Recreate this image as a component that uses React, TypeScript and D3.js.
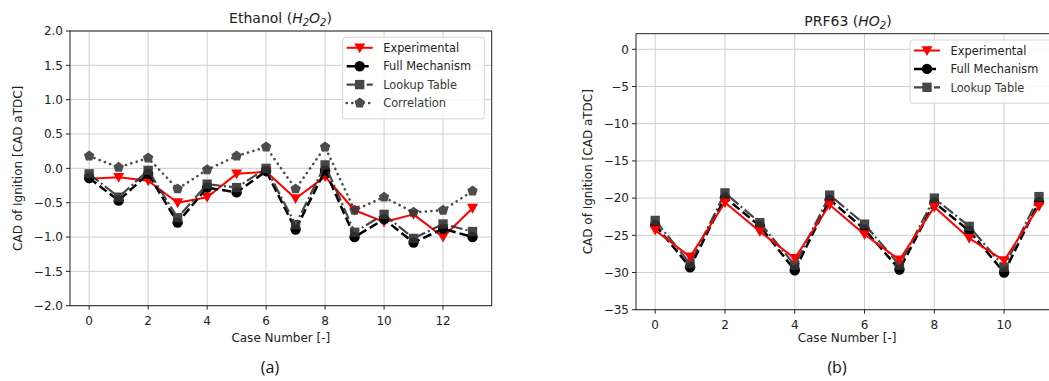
import React from "react";
import * as d3 from "d3";

// ---------- Data ----------
const casesA = [0, 1, 2, 3, 4, 5, 6, 7, 8, 9, 10, 11, 12, 13];
const expA = [-0.15, -0.13, -0.18, -0.5, -0.42, -0.08, -0.05, -0.44, -0.12, -0.61, -0.78, -0.67, -1.0, -0.58];
const fullA = [-0.14, -0.47, -0.08, -0.79, -0.28, -0.35, -0.04, -0.89, -0.03, -1.0, -0.74, -1.08, -0.88, -1.0];
const lookupA = [-0.08, -0.42, -0.03, -0.72, -0.23, -0.28, 0.0, -0.82, 0.05, -0.93, -0.67, -1.02, -0.81, -0.92];
const corrA = [0.18, 0.015, 0.15, -0.3, -0.02, 0.18, 0.31, -0.3, 0.31, -0.61, -0.42, -0.64, -0.61, -0.33];

const casesB = [0, 1, 2, 3, 4, 5, 6, 7, 8, 9, 10, 11];
const expB = [-24.3, -27.9, -20.6, -24.5, -28.1, -20.9, -24.9, -28.3, -21.2, -25.4, -28.4, -21.1];
const fullB = [-23.6, -29.3, -19.9, -23.75, -29.7, -20.2, -24.2, -29.6, -20.6, -24.4, -30.0, -20.5];
const lookupB = [-23.0, -28.8, -19.3, -23.3, -29.0, -19.6, -23.5, -29.0, -20.0, -23.8, -29.3, -19.8];

const yTicksA = [-2.0, -1.5, -1.0, -0.5, 0.0, 0.5, 1.0, 1.5, 2.0];
const xTicksA = [0, 2, 4, 6, 8, 10, 12];
const yTicksB = [-35, -30, -25, -20, -15, -10, -5, 0];
const xTicksB = [0, 2, 4, 6, 8, 10];

const seriesNames = ["Experimental", "Full Mechanism", "Lookup Table", "Correlation"];

// ---------- Styles ----------
const FONT = "'DejaVu Sans', sans-serif";
const TXT = "#222222";

type Style = {
  color: string;
  width: number;
  dash?: string;
  marker: "v" | "o" | "s" | "p";
  opacity?: number;
  cap?: "round" | "butt";
};

const styles: Record<string, Style> = {
  Experimental: { color: "#ff0000", width: 2, marker: "v" },
  "Full Mechanism": { color: "#000000", width: 2.5, dash: "9,4", marker: "o" },
  "Lookup Table": { color: "#333333", width: 2.2, dash: "12,3,2,3", marker: "s", opacity: 0.9 },
  Correlation: { color: "#3a3a3a", width: 2.6, dash: "0.1,5.5", marker: "p", opacity: 0.9, cap: "round" },
};

function markerPath(m: string, r: number): string {
  if (m === "o") {
    return `M${r},0A${r},${r} 0 1,1 ${-r},0A${r},${r} 0 1,1 ${r},0Z`;
  }
  if (m === "s") {
    const s = r * 0.9;
    return `M${-s},${-s}L${s},${-s}L${s},${s}L${-s},${s}Z`;
  }
  if (m === "v") {
    const s = r * 1.05;
    return `M${-s},${-s * 0.8}L${s},${-s * 0.8}L0,${s * 1.0}Z`;
  }
  // pentagon
  const pts: string[] = [];
  const rp = r * 1.05;
  for (let i = 0; i < 5; i++) {
    const a = -Math.PI / 2 + (i * 2 * Math.PI) / 5;
    pts.push(`${(rp * Math.cos(a)).toFixed(2)},${(rp * Math.sin(a)).toFixed(2)}`);
  }
  return "M" + pts.join("L") + "Z";
}

type PanelProps = {
  left: number;
  right: number;
  top: number;
  bottom: number;
  xDomain: [number, number];
  yDomain: [number, number];
  xTicks: number[];
  yTicks: number[];
  yFmt: (v: number) => string;
  series: { name: string; xs: number[]; ys: number[] }[];
  drawOrder: string[];
  title: React.ReactNode;
  titleX: number;
  legendX: number;
  legendY: number;
  legendW: number;
  yLabelX: number;
  clipId: string;
};

const minusFmt = (s: string) => s.replace("-", "\u2212");

function Panel(p: PanelProps) {
  const x = d3.scaleLinear().domain(p.xDomain).range([p.left, p.right]);
  const y = d3.scaleLinear().domain(p.yDomain).range([p.bottom, p.top]);
  const line = d3
    .line<[number, number]>()
    .x((d) => x(d[0]))
    .y((d) => y(d[1]));
  const midY = (p.top + p.bottom) / 2;
  const legendNames = p.series.map((s) => s.name);
  const rowH = 18.4;
  const legendH = legendNames.length * rowH + 8;

  return (
    <g>
      <defs>
        <clipPath id={p.clipId}>
          <rect x={p.left} y={p.top} width={p.right - p.left} height={p.bottom - p.top} />
        </clipPath>
      </defs>
      {/* grid */}
      {p.xTicks.map((t) => (
        <line key={"gx" + t} x1={x(t)} x2={x(t)} y1={p.top} y2={p.bottom} stroke="#cfcfcf" strokeWidth={1} />
      ))}
      {p.yTicks.map((t) => (
        <line key={"gy" + t} x1={p.left} x2={p.right} y1={y(t)} y2={y(t)} stroke="#cfcfcf" strokeWidth={1} />
      ))}
      {/* series */}
      <g clipPath={`url(#${p.clipId})`}>
        {p.drawOrder.map((name) => {
          const s = p.series.find((q) => q.name === name)!;
          const st = styles[name];
          const pts = s.xs.map((v, i) => [v, s.ys[i]] as [number, number]);
          return (
            <g key={name} opacity={st.opacity ?? 1}>
              <path
                d={line(pts) || ""}
                fill="none"
                stroke={st.color}
                strokeWidth={st.width}
                strokeDasharray={st.dash}
                strokeLinejoin="round"
                strokeLinecap={st.cap ?? "butt"}
              />
              {pts.map((d, i) => (
                <path
                  key={i}
                  d={markerPath(st.marker, 5.2)}
                  transform={`translate(${x(d[0])},${y(d[1])})`}
                  fill={st.color}
                />
              ))}
            </g>
          );
        })}
      </g>
      {/* spines */}
      <rect
        x={p.left}
        y={p.top}
        width={p.right - p.left}
        height={p.bottom - p.top}
        fill="none"
        stroke="#222"
        strokeWidth={1}
      />
      {/* x ticks */}
      {p.xTicks.map((t) => (
        <g key={"xt" + t}>
          <line x1={x(t)} x2={x(t)} y1={p.bottom} y2={p.bottom + 4} stroke="#222" strokeWidth={1} />
          <text x={x(t)} y={p.bottom + 19} textAnchor="middle" fontFamily={FONT} fontSize={12} fill={TXT}>
            {t}
          </text>
        </g>
      ))}
      {/* y ticks */}
      {p.yTicks.map((t) => (
        <g key={"yt" + t}>
          <line x1={p.left - 4} x2={p.left} y1={y(t)} y2={y(t)} stroke="#222" strokeWidth={1} />
          <text
            x={p.left - 7}
            y={y(t) + 4.3}
            textAnchor="end"
            fontFamily={FONT}
            fontSize={12}
            fill={TXT}
          >
            {minusFmt(p.yFmt(t))}
          </text>
        </g>
      ))}
      {/* axis labels */}
      <text
        x={(p.left + p.right) / 2}
        y={342}
        textAnchor="middle"
        fontFamily={FONT}
        fontSize={12}
        fill={TXT}
      >
        Case Number [-]
      </text>
      <text
        transform={`translate(${p.yLabelX},${midY}) rotate(-90)`}
        textAnchor="middle"
        fontFamily={FONT}
        fontSize={12}
        fill={TXT}
      >
        CAD of Ignition [CAD aTDC]
      </text>
      {/* title */}
      <text x={p.titleX} y={p.top - 8} textAnchor="middle" fontFamily={FONT} fontSize={14} fill={TXT}>
        {p.title}
      </text>
      {/* legend */}
      <g>
        <rect
          x={p.legendX}
          y={p.legendY}
          width={p.legendW}
          height={legendH}
          rx={2.5}
          fill="#ffffff"
          fillOpacity={0.85}
          stroke="#d6d6d6"
          strokeWidth={1}
        />
        {legendNames.map((name, i) => {
          const st = styles[name];
          const cy = p.legendY + 10.5 + i * rowH;
          const lx0 = p.legendX + 4;
          const lx1 = p.legendX + 30;
          return (
            <g key={"lg" + name} opacity={st.opacity ?? 1}>
              <line
                x1={lx0}
                x2={lx1}
                y1={cy}
                y2={cy}
                stroke={st.color}
                strokeWidth={st.width}
                strokeDasharray={st.dash}
                strokeLinecap={st.cap ?? "butt"}
              />
              <path d={markerPath(st.marker, 5.2)} transform={`translate(${(lx0 + lx1) / 2},${cy})`} fill={st.color} />
              <text x={p.legendX + 40.5} y={cy + 4.2} fontFamily={FONT} fontSize={11.4} fill={TXT}>
                {name}
              </text>
            </g>
          );
        })}
      </g>
    </g>
  );
}

export default function App() {
  const seriesA = [
    { name: seriesNames[0], xs: casesA, ys: expA },
    { name: seriesNames[1], xs: casesA, ys: fullA },
    { name: seriesNames[2], xs: casesA, ys: lookupA },
    { name: seriesNames[3], xs: casesA, ys: corrA },
  ];
  const seriesB = [
    { name: seriesNames[0], xs: casesB, ys: expB },
    { name: seriesNames[1], xs: casesB, ys: fullB },
    { name: seriesNames[2], xs: casesB, ys: lookupB },
  ];
  const fmt1 = d3.format(".1f");
  const fmt0 = d3.format("d");

  const titleA = (
    <>
      <tspan>Ethanol (</tspan>
      <tspan fontStyle="italic">H</tspan>
      <tspan fontStyle="italic" fontSize={10} dy={3}>2</tspan>
      <tspan fontStyle="italic" dy={-3}>O</tspan>
      <tspan fontStyle="italic" fontSize={10} dy={3}>2</tspan>
      <tspan dy={-3}>)</tspan>
    </>
  );
  const titleB = (
    <>
      <tspan>PRF63 (</tspan>
      <tspan fontStyle="italic">HO</tspan>
      <tspan fontStyle="italic" fontSize={10} dy={3}>2</tspan>
      <tspan dy={-3}>)</tspan>
    </>
  );

  return (
    <svg
      width={1049}
      height={381}
      style={{ position: "absolute", left: 0, top: 0, background: "#fff" }}
      xmlns="http://www.w3.org/2000/svg"
    >
      <rect x={0} y={0} width={1049} height={381} fill="#fff" />
      <Panel
        left={70}
        right={491.7}
        top={31}
        bottom={305.7}
        xDomain={[-0.65, 13.65]}
        yDomain={[-2, 2]}
        xTicks={xTicksA}
        yTicks={yTicksA}
        yFmt={fmt1}
        series={seriesA}
        drawOrder={["Experimental", "Full Mechanism", "Lookup Table", "Correlation"]}
        title={titleA}
        titleX={280.5}
        legendX={342.7}
        legendY={37.3}
        legendW={141.6}
        yLabelX={22}
        clipId="clipA"
      />
      <Panel
        left={636}
        right={1058.2}
        top={33.7}
        bottom={309.7}
        xDomain={[-0.55, 11.55]}
        yDomain={[-35, 2.1]}
        xTicks={xTicksB}
        yTicks={yTicksB}
        yFmt={fmt0}
        series={seriesB}
        drawOrder={["Full Mechanism", "Lookup Table", "Experimental"]}
        title={titleB}
        titleX={848}
        legendX={910}
        legendY={40}
        legendW={142}
        yLabelX={592}
        clipId="clipB"
      />
      <text x={270} y={373} textAnchor="middle" fontFamily="'Open Sans', sans-serif" fontSize={16} fill="#111">
        (a)
      </text>
      <text x={837} y={373} textAnchor="middle" fontFamily="'Open Sans', sans-serif" fontSize={16} fill="#111">
        (b)
      </text>
    </svg>
  );
}
